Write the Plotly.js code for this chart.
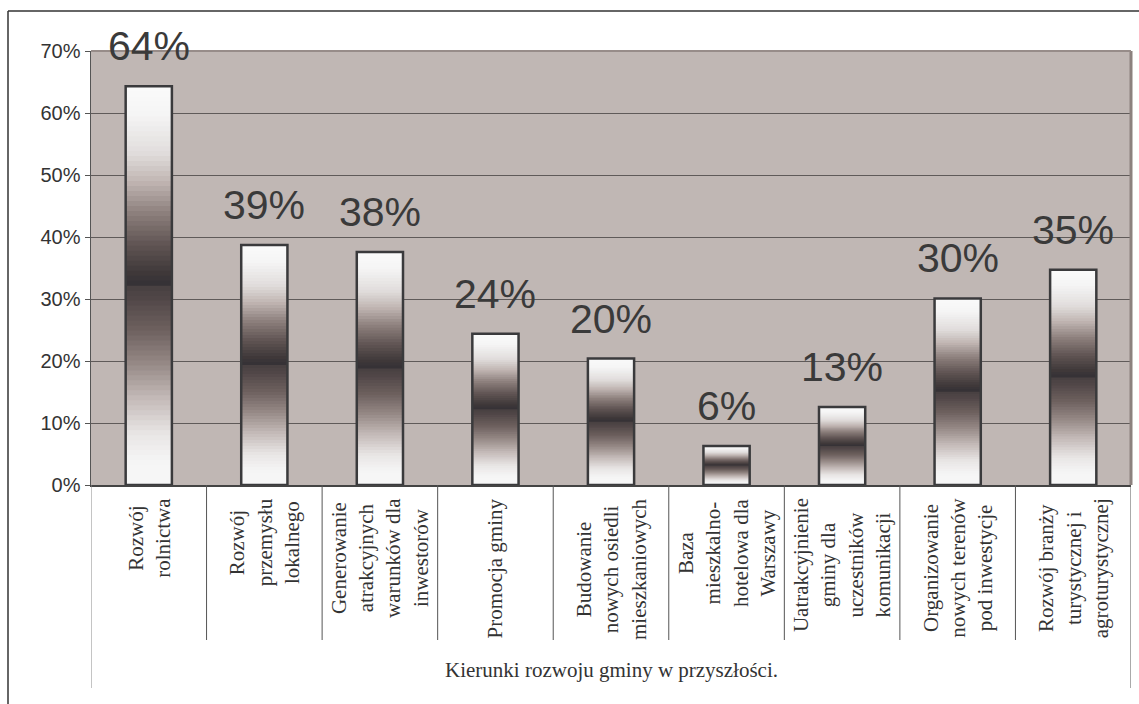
<!DOCTYPE html>
<html>
<head>
<meta charset="utf-8">
<script src="https://cdn.plot.ly/plotly-3.0.1.min.js"></script>
<style>
  html, body { margin: 0; padding: 0; background: #ffffff; }
  #chart { width: 1139px; height: 704px; }
</style>
</head>
<body>
<div id="chart"></div>
<script>
// ---- data ----
const categories = [
  'Rozwój<br>rolnictwa',
  'Rozwój<br>przemysłu<br>lokalnego',
  'Generowanie<br>atrakcyjnych<br>warunków dla<br>inwestorów',
  'Promocja gminy',
  'Budowanie<br>nowych osiedli<br>mieszkaniowych',
  'Baza<br>mieszkalno-<br>hotelowa dla<br>Warszawy',
  'Uatrakcyjnienie<br>gminy dla<br>uczestników<br>komunikacji',
  'Organizowanie<br>nowych terenów<br>pod inwestycje',
  'Rozwój branży<br>turystycznej i<br>agroturystycznej'
];
const values = [64.3, 38.7, 37.6, 24.4, 20.4, 6.3, 12.6, 30.1, 34.7];
const valueLabels = ['64%', '39%', '38%', '24%', '20%', '6%', '13%', '30%', '35%'];
const xAxisTitle = 'Kierunki rozwoju gminy w przyszłości.';

// ---- layout constants ----
const W = 1139, H = 704;
const M = { l: 91, r: 8, t: 51, b: 219 };
const plotW = W - M.l - M.r, plotH = H - M.t - M.b;
const pxX = px => (px - M.l) / plotW;
const pxY = py => (H - M.b - py) / plotH;

// vertical gradient of each bar (t = 0 bottom, 1 top)
const gradStops = [
  [0.00, [247, 247, 247]],
  [0.06, [245, 245, 245]],
  [0.13, [232, 229, 228]],
  [0.22, [194, 184, 182]],
  [0.30, [152, 139, 136]],
  [0.39, [109, 96, 94]],
  [0.47, [80, 70, 71]],
  [0.499, [72, 64, 65]],
  [0.50, [52, 49, 53]],
  [0.53, [62, 56, 57]],
  [0.60, [95, 83, 82]],
  [0.68, [139, 126, 123]],
  [0.76, [192, 181, 178]],
  [0.83, [224, 220, 219]],
  [0.93, [245, 245, 245]],
  [1.00, [250, 250, 250]]
];
function gradColor(t) {
  for (let i = 1; i < gradStops.length; i++) {
    if (t <= gradStops[i][0]) {
      const [t0, c0] = gradStops[i - 1], [t1, c1] = gradStops[i];
      const f = (t - t0) / (t1 - t0);
      const c = c0.map((v, k) => Math.round(v + (c1[k] - v) * f));
      return `rgb(${c[0]},${c[1]},${c[2]})`;
    }
  }
  const c = gradStops[gradStops.length - 1][1];
  return `rgb(${c[0]},${c[1]},${c[2]})`;
}

const BAR_W = 0.4;
const N = 80;
const traces = [];
for (let k = 0; k < N; k++) {
  const frac = (N - k) / N;
  traces.push({
    type: 'bar',
    x: categories,
    y: values.map(v => v * frac),
    width: BAR_W,
    marker: { color: gradColor((N - k - 0.5) / N), line: { width: 0 } },
    hoverinfo: 'skip',
    showlegend: false
  });
}
// outline
traces.push({
  type: 'bar',
  x: categories,
  y: values,
  width: BAR_W,
  marker: { color: 'rgba(0,0,0,0)', line: { color: '#3a3a3c', width: 2.5 } },
  hoverinfo: 'x+y',
  showlegend: false
});

const annotations = [];
values.forEach((v, i) => {
  annotations.push({
    x: categories[i], y: v, xref: 'x', yref: 'y',
    text: valueLabels[i], showarrow: false,
    yanchor: 'bottom', xanchor: 'center', yshift: 15,
    font: { family: 'Liberation Sans, Arial, sans-serif', size: 41, color: '#3a3a3a' }
  });
  annotations.push({
    x: categories[i], y: 0, xref: 'x', yref: 'paper',
    text: categories[i], showarrow: false, textangle: -90,
    yanchor: 'top', xanchor: 'center', yshift: -11, align: 'center',
    font: { family: 'Liberation Serif, Times New Roman, serif', size: 21, color: '#333333' }
  });
});
annotations.push({
  x: 0.5, y: pxY(670), xref: 'paper', yref: 'paper',
  text: xAxisTitle, showarrow: false, yanchor: 'middle', xanchor: 'center',
  font: { family: 'Liberation Serif, Times New Roman, serif', size: 21, color: '#333333' }
});

const shapes = [];
for (let i = 0; i <= categories.length; i++) {
  const outer = (i === 0 || i === categories.length);
  shapes.push({
    type: 'line', xref: 'x', yref: 'paper',
    x0: i - 0.5, x1: i - 0.5, y0: 0, y1: outer ? pxY(688) : pxY(640),
    line: { color: i === 0 ? '#8a8a8a' : '#555555', width: 1 }
  });
}
// plot-area right / top border
shapes.push({ type: 'line', xref: 'paper', yref: 'paper', x0: 1, x1: 1, y0: 0, y1: 1,
  line: { color: '#8c817e', width: 3 }, layer: 'above' });
shapes.push({ type: 'line', xref: 'paper', yref: 'paper', x0: 0, x1: 1, y0: 1, y1: 1,
  line: { color: '#978c89', width: 2 }, layer: 'above' });
// outer frame (left and top)
shapes.push({ type: 'line', xref: 'paper', yref: 'paper', x0: pxX(8), x1: pxX(8), y0: pxY(11), y1: pxY(704),
  line: { color: '#333333', width: 1.5 } });
shapes.push({ type: 'line', xref: 'paper', yref: 'paper', x0: pxX(8), x1: pxX(1139), y0: pxY(11), y1: pxY(11),
  line: { color: '#333333', width: 1.5 } });

const layout = {
  width: W, height: H,
  margin: M,
  paper_bgcolor: '#ffffff',
  plot_bgcolor: '#c0b7b4',
  barmode: 'overlay',
  showlegend: false,
  xaxis: {
    type: 'category', range: [-0.5, categories.length - 0.5],
    showticklabels: false, ticks: '', showgrid: false, zeroline: false,
    showline: true, linecolor: '#444444', linewidth: 2, fixedrange: true
  },
  yaxis: {
    range: [0, 70], dtick: 10, tick0: 0, ticksuffix: '%',
    showgrid: true, gridcolor: '#5f5a59', gridwidth: 1, zeroline: false,
    showline: true, linecolor: '#555555', linewidth: 1.5,
    ticks: 'outside', ticklen: 5, tickcolor: '#555555', tickwidth: 1,
    tickfont: { family: 'Liberation Sans, Arial, sans-serif', size: 20, color: '#333333' },
    fixedrange: true
  },
  annotations: annotations,
  shapes: shapes
};

Plotly.newPlot('chart', traces, layout, { displayModeBar: false, staticPlot: true });
</script>
</body>
</html>
